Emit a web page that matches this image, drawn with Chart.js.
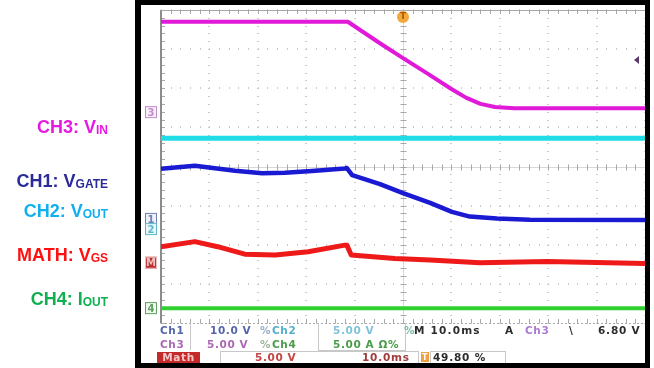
<!DOCTYPE html>
<html>
<head>
<meta charset="utf-8">
<script src="https://cdn.jsdelivr.net/npm/chart.js@4.4.1/dist/chart.umd.min.js"></script>
<style>
html, body { margin: 0; padding: 0; background: #fff; }
#wrap { position: relative; width: 654px; height: 368px; overflow: hidden; font-family: "Liberation Sans", Arial, sans-serif; }
#scope { position: absolute; left: 0; top: 0; }
.lbl { position: absolute; right: 546px; font-weight: bold; font-size: 18px; line-height: 18px; white-space: nowrap; }
.lbl sub { font-size: 12px; vertical-align: baseline; position: relative; top: 1px; }
#frame { position: absolute; left: 135px; top: 0; width: 504px; height: 358px; border: solid #000; border-width: 5px 5px 5px 6px; pointer-events: none; }
.st { position: absolute; font-family: "DejaVu Sans", sans-serif; font-weight: bold; font-size: 10.5px; line-height: 11px; letter-spacing: 0.6px; white-space: nowrap; }
.box { position: absolute; border: 1px solid #c8c8c8; pointer-events: none; }
</style>
</head>
<body>
<div id="wrap">
  <canvas id="scope" width="654" height="368"></canvas>

  <div class="lbl" style="top:118px;color:#e619e0">CH3: V<sub>IN</sub></div>
  <div class="lbl" style="top:172px;color:#2a2a9a">CH1: V<sub>GATE</sub></div>
  <div class="lbl" style="top:202px;color:#10b0ee">CH2: V<sub>OUT</sub></div>
  <div class="lbl" style="top:246px;color:#ff1010">MATH: V<sub>GS</sub></div>
  <div class="lbl" style="top:290px;color:#10b050">CH4: I<sub>OUT</sub></div>

  <!-- status readout -->
  <div class="box" style="left:190px;top:323px;width:127px;height:27px;border-top:none;border-bottom:none"></div>
  <div class="box" style="left:318px;top:323px;width:86px;height:27px;border-top:none"></div>
  <div class="box" style="left:220px;top:351px;width:197px;height:11px;border-bottom:none"></div>
  <div class="box" style="left:430px;top:351px;width:74px;height:11px;border-bottom:none"></div>

  <div class="st" style="left:160px;top:325px;color:#5565ac">Ch1</div>
  <div class="st" style="left:210px;top:325px;color:#5565ac">10.0 V</div>
  <div class="st" style="left:260px;top:325px;color:#98aecb">%</div>
  <div class="st" style="left:272px;top:325px;color:#52aecb">Ch2</div>
  <div class="st" style="left:333px;top:325px;color:#80c2d8">5.00 V</div>
  <div class="st" style="left:404px;top:325px;color:#7cbcaa">%</div>
  <div class="st" style="left:414px;top:325px;color:#2c2c2c;letter-spacing:1.2px">M 10.0ms</div>
  <div class="st" style="left:505px;top:325px;color:#2c2c2c">A</div>
  <div class="st" style="left:525px;top:325px;color:#aa7ad4">Ch3</div>
  <div class="st" style="left:569px;top:325px;color:#2c2c2c">\</div>
  <div class="st" style="left:598px;top:325px;color:#2c2c2c;letter-spacing:0.8px">6.80 V</div>

  <div class="st" style="left:160px;top:339px;color:#ac68b4">Ch3</div>
  <div class="st" style="left:207px;top:339px;color:#ac68b4">5.00 V</div>
  <div class="st" style="left:260px;top:339px;color:#9cb69c">%</div>
  <div class="st" style="left:272px;top:339px;color:#4a9c4a">Ch4</div>
  <div class="st" style="left:333px;top:339px;color:#4a9c4a">5.00 A Ω%</div>

  <div class="st" style="left:157px;top:352px;width:43px;height:11px;background:#c42a2a;color:#f4c8c8;text-align:center">Math</div>
  <div class="st" style="left:255px;top:352px;color:#c44444">5.00 V</div>
  <div class="st" style="left:362px;top:352px;color:#a03c3c;letter-spacing:0.8px">10.0ms</div>
  <div class="st" style="left:421px;top:352px;width:8px;height:10px;background:#f0a040;color:#fff;font-size:8px;text-align:center">T</div>
  <div class="st" style="left:433px;top:352px;color:#2c2c2c;letter-spacing:0.8px">49.80 %</div>

  <div id="frame"></div>
</div>

<script>
// time axis in ms (10 ms/div), vertical values in screen divisions
const tVin = [-50, -11.4, -5, 0, 5, 10, 13, 16, 19, 23, 50];
const vin = [3.70, 3.70, 3.17, 2.77, 2.38, 1.98, 1.76, 1.60, 1.52, 1.49, 1.49];

const tVout = [-50, 50];
const vout = [0.72, 0.72];

const tVgate = [-50, -43, -34.7, -29.1, -24.4, -18.8, -12, -11.6, -10.5, -4.75, 0, 5.6, 10.1, 13.8, 19.4, 26.2, 50];
const vgate = [-0.06, 0.02, -0.11, -0.17, -0.16, -0.115, -0.05, -0.04, -0.22, -0.45, -0.68, -0.93, -1.16, -1.28, -1.33, -1.36, -1.37];

const tVgs = [-50, -43, -38.3, -32.7, -26.4, -19.6, -12, -11.6, -10.7, -1.7, 5.6, 15.9, 29.8, 50];
const vgs = [-2.05, -1.92, -2.05, -2.24, -2.26, -2.18, -2.01, -2.01, -2.26, -2.35, -2.39, -2.46, -2.43, -2.48];

const tIout = [-50, 50];
const iout = [-3.62, -3.62];

// channel ground markers on the left edge
const markerText = ['3', '1', '2', 'M', '4'];
const markerLevel = [1.39, -1.34, -1.60, -2.46, -3.62];
const markerFill = ['#fbeefb', '#eef0fa', '#e8f8fa', '#b83030', '#f0faf0'];
const markerInk = ['#c090c8', '#7080b0', '#60b8c8', '#f0c0c0', '#60a060'];

const triggerTime = 0;
const triggerLevel = 2.72;

const pts = (xs, ys) => xs.map((x, i) => ({ x: x, y: ys[i] }));

const graticule = {
    id: 'graticule',
    beforeDatasetsDraw(chart) {
        const { ctx, chartArea: a, scales: { x, y } } = chart;
        ctx.save();
        // dotted grid
        ctx.fillStyle = '#cacaca';
        for (let i = -5; i <= 5; i++) {
            const px = Math.round(x.getPixelForValue(i * 10));
            for (let k = -20; k <= 20; k++) {
                ctx.fillRect(px - 1, Math.round(y.getPixelForValue(k / 5)), 2, 1);
            }
        }
        for (let j = -4; j <= 4; j++) {
            const py = Math.round(y.getPixelForValue(j));
            for (let k = -25; k <= 25; k++) {
                ctx.fillRect(Math.round(x.getPixelForValue(k * 2)), py - 1, 1, 2);
            }
        }
        // center cross with minor ticks
        const cx = Math.round(x.getPixelForValue(0)) + 0.5;
        const cy = Math.round(y.getPixelForValue(0)) + 0.5;
        ctx.strokeStyle = '#d8d8d8';
        ctx.lineWidth = 1;
        ctx.beginPath();
        ctx.moveTo(cx, a.top); ctx.lineTo(cx, a.bottom);
        ctx.moveTo(a.left, cy); ctx.lineTo(a.right, cy);
        ctx.stroke();
        ctx.strokeStyle = '#a8a8a8';
        ctx.beginPath();
        for (let k = -20; k <= 20; k++) {
            const py = Math.round(y.getPixelForValue(k / 5)) + 0.5;
            ctx.moveTo(cx - 3, py); ctx.lineTo(cx + 3, py);
            ctx.moveTo(a.left, py); ctx.lineTo(a.left + 4, py);
        }
        for (let k = -25; k <= 25; k++) {
            const px = Math.round(x.getPixelForValue(k * 2)) + 0.5;
            ctx.moveTo(px, cy - 3); ctx.lineTo(px, cy + 3);
            ctx.moveTo(px, a.top); ctx.lineTo(px, a.top + 4);
            ctx.moveTo(px, a.bottom); ctx.lineTo(px, a.bottom - 4);
        }
        ctx.stroke();
        // border
        ctx.strokeStyle = '#8c8c8c';
        ctx.lineWidth = 2;
        ctx.beginPath();
        ctx.moveTo(a.left, a.top); ctx.lineTo(a.left, a.bottom);
        ctx.stroke();
        ctx.strokeStyle = '#a8a8a8';
        ctx.lineWidth = 1;
        ctx.beginPath();
        ctx.moveTo(a.left, a.top + 0.5); ctx.lineTo(a.right, a.top + 0.5);
        ctx.stroke();
        ctx.setLineDash([2, 2]);
        ctx.beginPath();
        ctx.moveTo(a.left, a.bottom + 0.5); ctx.lineTo(a.right, a.bottom + 0.5);
        ctx.stroke();
        ctx.restore();
    },
    afterDatasetsDraw(chart) {
        const { ctx, chartArea: a, scales: { x, y } } = chart;
        ctx.save();
        // channel markers
        ctx.font = 'bold 10px "DejaVu Sans"';
        ctx.textAlign = 'center';
        ctx.textBaseline = 'middle';
        markerLevel.forEach((lv, i) => {
            const py = y.getPixelForValue(lv);
            ctx.fillStyle = markerFill[i];
            ctx.fillRect(a.left - 16, py - 6, 12, 12);
            ctx.strokeStyle = markerInk[i];
            ctx.lineWidth = 1;
            ctx.strokeRect(a.left - 15.5, py - 5.5, 11, 11);
            ctx.fillStyle = markerInk[i];
            ctx.fillText(markerText[i], a.left - 10, py + 1);
        });
        // trigger position
        const tx = x.getPixelForValue(triggerTime);
        ctx.fillStyle = '#f2a93b';
        ctx.beginPath();
        ctx.arc(tx, a.top + 7, 6, 0, Math.PI * 2);
        ctx.fill();
        ctx.fillStyle = '#b05a00';
        ctx.font = 'bold 9px "DejaVu Sans"';
        ctx.fillText('T', tx, a.top + 7);
        // trigger level
        const ty = y.getPixelForValue(triggerLevel);
        ctx.fillStyle = '#5a3a6a';
        ctx.beginPath();
        ctx.moveTo(a.right - 11, ty);
        ctx.lineTo(a.right - 6, ty - 4);
        ctx.lineTo(a.right - 6, ty + 4);
        ctx.closePath();
        ctx.fill();
        ctx.restore();
    }
};

new Chart(document.getElementById('scope'), {
    type: 'line',
    data: {
        datasets: [
            { label: 'CH4: IOUT', data: pts(tIout, iout), borderColor: '#30d030', borderWidth: 4 },
            { label: 'MATH: VGS', data: pts(tVgs, vgs), borderColor: '#ee1a1a', borderWidth: 5 },
            { label: 'CH2: VOUT', data: pts(tVout, vout), borderColor: '#20dce6', borderWidth: 5 },
            { label: 'CH1: VGATE', data: pts(tVgate, vgate), borderColor: '#1a1ad2', borderWidth: 4.5 },
            { label: 'CH3: VIN', data: pts(tVin, vin), borderColor: '#e01ad8', borderWidth: 4 }
        ]
    },
    options: {
        responsive: false,
        animation: false,
        layout: { padding: { left: 161, top: 10, right: 9, bottom: 45 } },
        plugins: { legend: { display: false }, tooltip: { enabled: false } },
        elements: { point: { radius: 0 }, line: { tension: 0, borderJoinStyle: 'round', borderCapStyle: 'butt' } },
        scales: {
            x: { type: 'linear', min: -50, max: 50, display: false },
            y: { type: 'linear', min: -4, max: 4, display: false }
        }
    },
    plugins: [graticule]
});
</script>
</body>
</html>
